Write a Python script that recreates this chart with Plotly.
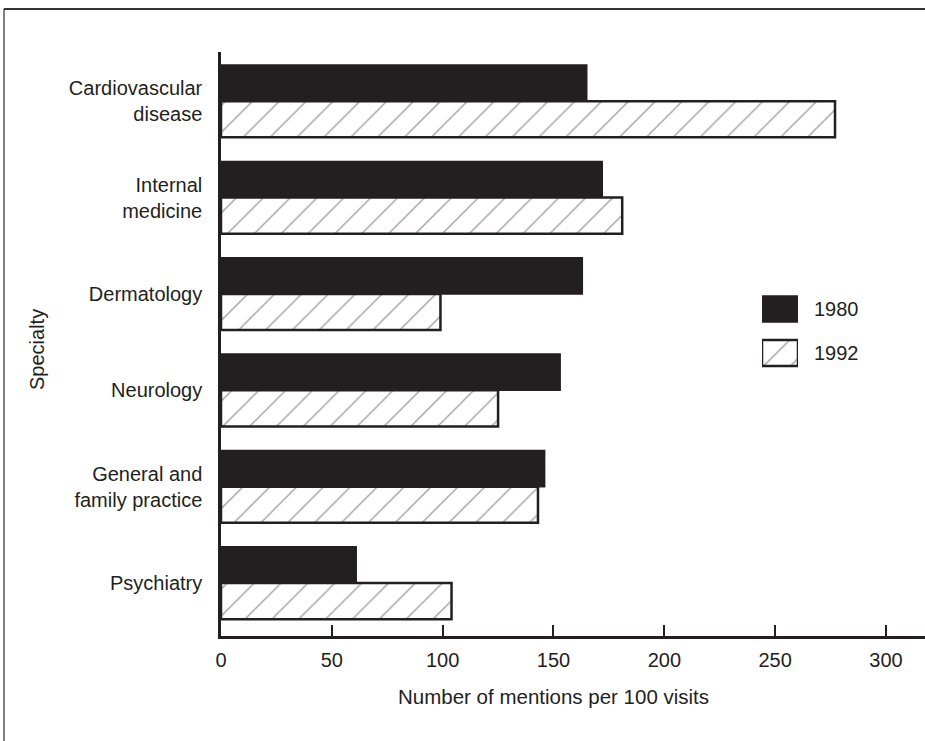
import plotly.graph_objects as go

categories = ["Cardiovascular<br>disease", "Internal<br>medicine", "Dermatology",
              "Neurology", "General and<br>family practice", "Psychiatry"]
series_names = ["1980", "1992"]
values_1980 = [165, 172, 163, 153, 146, 61]
values_1992 = [277, 181, 99, 125, 143, 104]
x_ticks = [0, 50, 100, 150, 200, 250, 300]

INK = "#231f20"
FONT = "Liberation Sans, Arial, Helvetica, sans-serif"

fig = go.Figure()

hatch = dict(shape="/", fgcolor="#3a3a3a", bgcolor="white", size=19, solidity=0.07)

fig.add_trace(go.Bar(
    y=categories, x=values_1980, orientation="h", name=series_names[0],
    marker=dict(color=INK, line=dict(color=INK, width=1.5)),
    showlegend=False, xaxis="x", yaxis="y"))
fig.add_trace(go.Bar(
    y=categories, x=values_1992, orientation="h", name=series_names[1],
    marker=dict(color="white", pattern=hatch, line=dict(color=INK, width=2.5)),
    showlegend=False, xaxis="x", yaxis="y"))

# legend keys drawn on a small overlay axis
fig.add_trace(go.Bar(
    y=[series_names[0]], x=[1], orientation="h", width=0.59,
    marker=dict(color=INK, line=dict(color=INK, width=1.5)),
    showlegend=False, xaxis="x2", yaxis="y2", hoverinfo="skip"))
fig.add_trace(go.Bar(
    y=[series_names[1]], x=[1], orientation="h", width=0.59,
    marker=dict(color="white", pattern=hatch, line=dict(color=INK, width=2.5)),
    showlegend=False, xaxis="x2", yaxis="y2", hoverinfo="skip"))

W, H = 925, 741
L, R, T, B = 221, 0, 52, 105
pw = W - L - R
ph = H - T - B

def px_x(p):
    return (p - L) / pw

def px_y(p):
    return (H - B - p) / ph

for idx, name in enumerate(series_names):
    fig.add_annotation(xref="paper", yref="y2", x=px_x(812), y=idx, text=name,
                       showarrow=False, xanchor="left", yanchor="middle",
                       font=dict(family=FONT, size=20, color=INK))

fig.add_annotation(xref="x", yref="paper", x=150, y=px_y(696),
                   text="Number of mentions per 100 visits", showarrow=False,
                   xanchor="center", yanchor="middle",
                   font=dict(family=FONT, size=20.5, color=INK))
fig.add_annotation(xref="paper", yref="paper", x=px_x(37), y=px_y(350),
                   text="Specialty", textangle=-90, showarrow=False,
                   xanchor="center", yanchor="middle",
                   font=dict(family=FONT, size=20, color=INK))

# outer frame lines
fig.add_shape(type="line", xref="paper", yref="paper",
              x0=px_x(4), x1=px_x(930), y0=px_y(9), y1=px_y(9),
              line=dict(color="#333333", width=2))
fig.add_shape(type="line", xref="paper", yref="paper",
              x0=px_x(4), x1=px_x(4), y0=px_y(9), y1=px_y(745),
              line=dict(color="#555555", width=1.5))

fig.update_layout(
    width=W, height=H,
    margin=dict(l=L, r=R, t=T, b=B, autoexpand=False),
    paper_bgcolor="white", plot_bgcolor="white",
    barmode="group", bargap=0.25, bargroupgap=0,
    font=dict(family=FONT, size=20, color=INK),
    xaxis=dict(range=[0, 317.6], tickmode="array", tickvals=x_ticks,
               ticktext=[str(v) for v in x_ticks],
               ticks="inside", ticklen=11, tickwidth=2, tickcolor=INK,
               showline=True, linecolor=INK, linewidth=3,
               showgrid=False, zeroline=False, ticklabelstandoff=4,
               tickfont=dict(family=FONT, size=20, color=INK)),
    yaxis=dict(range=[5.55, -0.51], type="category",
               showline=True, linecolor=INK, linewidth=2.5,
               showgrid=False, zeroline=False, ticks="",
               ticklabelstandoff=12,
               tickfont=dict(family=FONT, size=20, color=INK)),
    xaxis2=dict(domain=[px_x(762), px_x(798)], range=[0, 1], anchor="y2",
                visible=False, fixedrange=True),
    yaxis2=dict(domain=[px_y(375), px_y(287)], range=[1.5, -0.5], type="category",
                anchor="x2", visible=False, fixedrange=True),
)

fig.write_html("out.html",
               config={"displayModeBar": False},
               post_script="document.body.style.margin='0px';"
                           "document.body.style.overflow='hidden';")
